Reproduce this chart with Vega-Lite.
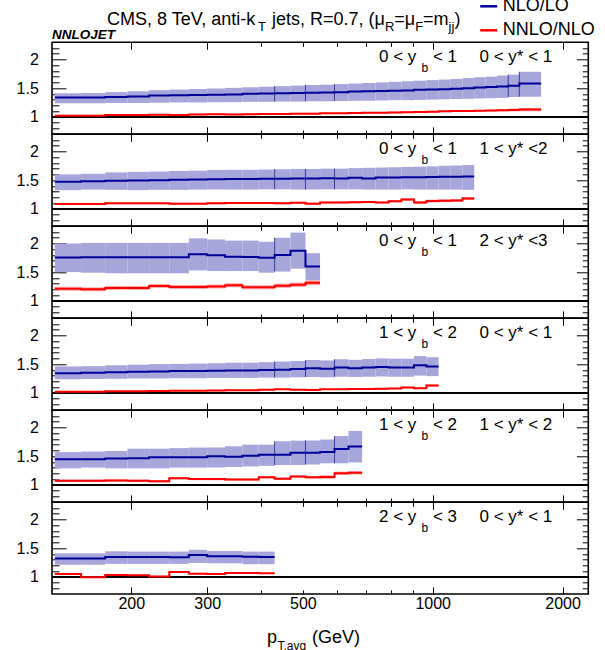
{
"$schema":"https://vega.github.io/schema/vega-lite/v6.json",
"autosize":{"type":"none"},
"bounds":"flush",
"padding":{"left":52,"top":42.3,"right":16.7,"bottom":0},
"params":[{"name":"width","value":536.3},{"name":"height","value":607.7}],
"background":"white",
"config":{"view":{"stroke":"black","strokeWidth":1.6},"axis":{"domain":false,"grid":false,"tickColor":"black","tickWidth":1,"labelFont":"Liberation Sans","labelFontSize":16,"labelColor":"black","zindex":1},"text":{"font":"Liberation Sans","color":"black"}},
"datasets":{
"labels":[
{"panel":1,"a":"0 < y","b":"b","c":"< 1","d":"0 < y* < 1"},
{"panel":2,"a":"0 < y","b":"b","c":"< 1","d":"1 < y* <2"},
{"panel":3,"a":"0 < y","b":"b","c":"< 1","d":"2 < y* <3"},
{"panel":4,"a":"1 < y","b":"b","c":"< 2","d":"0 < y* < 1"},
{"panel":5,"a":"1 < y","b":"b","c":"< 2","d":"1 < y* < 2"},
{"panel":6,"a":"2 < y","b":"b","c":"< 3","d":"0 < y* < 1"}
],
"bins":[
{"panel":1,"series":"NLO/LO","lo":133,"hi":153,"mid":1.335,"down":1.235,"up":1.41},
{"panel":1,"series":"NLO/LO","lo":153,"hi":174,"mid":1.335,"down":1.235,"up":1.415},
{"panel":1,"series":"NLO/LO","lo":174,"hi":196,"mid":1.345,"down":1.24,"up":1.43},
{"panel":1,"series":"NLO/LO","lo":196,"hi":220,"mid":1.355,"down":1.24,"up":1.445},
{"panel":1,"series":"NLO/LO","lo":220,"hi":245,"mid":1.37,"down":1.245,"up":1.465},
{"panel":1,"series":"NLO/LO","lo":245,"hi":272,"mid":1.375,"down":1.25,"up":1.475},
{"panel":1,"series":"NLO/LO","lo":272,"hi":300,"mid":1.38,"down":1.25,"up":1.485},
{"panel":1,"series":"NLO/LO","lo":300,"hi":330,"mid":1.385,"down":1.255,"up":1.495},
{"panel":1,"series":"NLO/LO","lo":330,"hi":362,"mid":1.39,"down":1.255,"up":1.505},
{"panel":1,"series":"NLO/LO","lo":362,"hi":395,"mid":1.4,"down":1.26,"up":1.515},
{"panel":1,"series":"NLO/LO","lo":395,"hi":430,"mid":1.405,"down":1.26,"up":1.525},
{"panel":1,"series":"NLO/LO","lo":430,"hi":468,"mid":1.41,"down":1.265,"up":1.535},
{"panel":1,"series":"NLO/LO","lo":468,"hi":507,"mid":1.415,"down":1.265,"up":1.545},
{"panel":1,"series":"NLO/LO","lo":507,"hi":548,"mid":1.42,"down":1.27,"up":1.555},
{"panel":1,"series":"NLO/LO","lo":548,"hi":592,"mid":1.425,"down":1.27,"up":1.56},
{"panel":1,"series":"NLO/LO","lo":592,"hi":638,"mid":1.43,"down":1.275,"up":1.57},
{"panel":1,"series":"NLO/LO","lo":638,"hi":686,"mid":1.44,"down":1.28,"up":1.58},
{"panel":1,"series":"NLO/LO","lo":686,"hi":737,"mid":1.445,"down":1.28,"up":1.59},
{"panel":1,"series":"NLO/LO","lo":737,"hi":790,"mid":1.45,"down":1.285,"up":1.6},
{"panel":1,"series":"NLO/LO","lo":790,"hi":846,"mid":1.455,"down":1.29,"up":1.61},
{"panel":1,"series":"NLO/LO","lo":846,"hi":905,"mid":1.46,"down":1.29,"up":1.62},
{"panel":1,"series":"NLO/LO","lo":905,"hi":967,"mid":1.47,"down":1.295,"up":1.63},
{"panel":1,"series":"NLO/LO","lo":967,"hi":1032,"mid":1.475,"down":1.3,"up":1.64},
{"panel":1,"series":"NLO/LO","lo":1032,"hi":1101,"mid":1.48,"down":1.305,"up":1.65},
{"panel":1,"series":"NLO/LO","lo":1101,"hi":1172,"mid":1.49,"down":1.31,"up":1.66},
{"panel":1,"series":"NLO/LO","lo":1172,"hi":1248,"mid":1.5,"down":1.315,"up":1.675},
{"panel":1,"series":"NLO/LO","lo":1248,"hi":1327,"mid":1.51,"down":1.32,"up":1.69},
{"panel":1,"series":"NLO/LO","lo":1327,"hi":1410,"mid":1.52,"down":1.325,"up":1.7},
{"panel":1,"series":"NLO/LO","lo":1410,"hi":1497,"mid":1.53,"down":1.33,"up":1.72},
{"panel":1,"series":"NLO/LO","lo":1497,"hi":1588,"mid":1.54,"down":1.345,"up":1.735},
{"panel":1,"series":"NLO/LO","lo":1588,"hi":1784,"mid":1.58,"down":1.35,"up":1.785},
{"panel":1,"series":"NNLO/NLO","lo":133,"hi":153,"mid":1.02,"down":1.005,"up":1.035},
{"panel":1,"series":"NNLO/NLO","lo":153,"hi":174,"mid":1.02,"down":1.005,"up":1.035},
{"panel":1,"series":"NNLO/NLO","lo":174,"hi":196,"mid":1.03,"down":1.015,"up":1.045},
{"panel":1,"series":"NNLO/NLO","lo":196,"hi":220,"mid":1.03,"down":1.015,"up":1.045},
{"panel":1,"series":"NNLO/NLO","lo":220,"hi":245,"mid":1.035,"down":1.02,"up":1.05},
{"panel":1,"series":"NNLO/NLO","lo":245,"hi":272,"mid":1.03,"down":1.015,"up":1.045},
{"panel":1,"series":"NNLO/NLO","lo":272,"hi":300,"mid":1.04,"down":1.025,"up":1.055},
{"panel":1,"series":"NNLO/NLO","lo":300,"hi":330,"mid":1.045,"down":1.03,"up":1.06},
{"panel":1,"series":"NNLO/NLO","lo":330,"hi":362,"mid":1.04,"down":1.025,"up":1.055},
{"panel":1,"series":"NNLO/NLO","lo":362,"hi":395,"mid":1.045,"down":1.03,"up":1.06},
{"panel":1,"series":"NNLO/NLO","lo":395,"hi":430,"mid":1.05,"down":1.035,"up":1.065},
{"panel":1,"series":"NNLO/NLO","lo":430,"hi":468,"mid":1.05,"down":1.035,"up":1.065},
{"panel":1,"series":"NNLO/NLO","lo":468,"hi":507,"mid":1.055,"down":1.04,"up":1.07},
{"panel":1,"series":"NNLO/NLO","lo":507,"hi":548,"mid":1.055,"down":1.04,"up":1.07},
{"panel":1,"series":"NNLO/NLO","lo":548,"hi":592,"mid":1.06,"down":1.045,"up":1.075},
{"panel":1,"series":"NNLO/NLO","lo":592,"hi":638,"mid":1.06,"down":1.045,"up":1.075},
{"panel":1,"series":"NNLO/NLO","lo":638,"hi":686,"mid":1.065,"down":1.05,"up":1.08},
{"panel":1,"series":"NNLO/NLO","lo":686,"hi":737,"mid":1.07,"down":1.055,"up":1.085},
{"panel":1,"series":"NNLO/NLO","lo":737,"hi":790,"mid":1.07,"down":1.055,"up":1.085},
{"panel":1,"series":"NNLO/NLO","lo":790,"hi":846,"mid":1.075,"down":1.06,"up":1.09},
{"panel":1,"series":"NNLO/NLO","lo":846,"hi":905,"mid":1.08,"down":1.065,"up":1.095},
{"panel":1,"series":"NNLO/NLO","lo":905,"hi":967,"mid":1.085,"down":1.07,"up":1.1},
{"panel":1,"series":"NNLO/NLO","lo":967,"hi":1032,"mid":1.09,"down":1.075,"up":1.105},
{"panel":1,"series":"NNLO/NLO","lo":1032,"hi":1101,"mid":1.095,"down":1.08,"up":1.11},
{"panel":1,"series":"NNLO/NLO","lo":1101,"hi":1172,"mid":1.1,"down":1.085,"up":1.115},
{"panel":1,"series":"NNLO/NLO","lo":1172,"hi":1248,"mid":1.1,"down":1.085,"up":1.115},
{"panel":1,"series":"NNLO/NLO","lo":1248,"hi":1327,"mid":1.105,"down":1.09,"up":1.12},
{"panel":1,"series":"NNLO/NLO","lo":1327,"hi":1410,"mid":1.11,"down":1.095,"up":1.125},
{"panel":1,"series":"NNLO/NLO","lo":1410,"hi":1497,"mid":1.115,"down":1.095,"up":1.135},
{"panel":1,"series":"NNLO/NLO","lo":1497,"hi":1588,"mid":1.12,"down":1.095,"up":1.145},
{"panel":1,"series":"NNLO/NLO","lo":1588,"hi":1784,"mid":1.125,"down":1.095,"up":1.155},
{"panel":2,"series":"NLO/LO","lo":133,"hi":153,"mid":1.47,"down":1.325,"up":1.6},
{"panel":2,"series":"NLO/LO","lo":153,"hi":174,"mid":1.48,"down":1.335,"up":1.61},
{"panel":2,"series":"NLO/LO","lo":174,"hi":196,"mid":1.49,"down":1.33,"up":1.635},
{"panel":2,"series":"NLO/LO","lo":196,"hi":220,"mid":1.495,"down":1.325,"up":1.645},
{"panel":2,"series":"NLO/LO","lo":220,"hi":245,"mid":1.5,"down":1.33,"up":1.65},
{"panel":2,"series":"NLO/LO","lo":245,"hi":272,"mid":1.505,"down":1.33,"up":1.66},
{"panel":2,"series":"NLO/LO","lo":272,"hi":300,"mid":1.51,"down":1.335,"up":1.665},
{"panel":2,"series":"NLO/LO","lo":300,"hi":330,"mid":1.515,"down":1.335,"up":1.675},
{"panel":2,"series":"NLO/LO","lo":330,"hi":362,"mid":1.52,"down":1.335,"up":1.68},
{"panel":2,"series":"NLO/LO","lo":362,"hi":395,"mid":1.52,"down":1.335,"up":1.68},
{"panel":2,"series":"NLO/LO","lo":395,"hi":430,"mid":1.525,"down":1.34,"up":1.685},
{"panel":2,"series":"NLO/LO","lo":430,"hi":468,"mid":1.525,"down":1.34,"up":1.69},
{"panel":2,"series":"NLO/LO","lo":468,"hi":507,"mid":1.53,"down":1.335,"up":1.695},
{"panel":2,"series":"NLO/LO","lo":507,"hi":548,"mid":1.53,"down":1.335,"up":1.695},
{"panel":2,"series":"NLO/LO","lo":548,"hi":592,"mid":1.535,"down":1.34,"up":1.7},
{"panel":2,"series":"NLO/LO","lo":592,"hi":638,"mid":1.53,"down":1.34,"up":1.7},
{"panel":2,"series":"NLO/LO","lo":638,"hi":686,"mid":1.54,"down":1.34,"up":1.71},
{"panel":2,"series":"NLO/LO","lo":686,"hi":737,"mid":1.53,"down":1.335,"up":1.715},
{"panel":2,"series":"NLO/LO","lo":737,"hi":790,"mid":1.545,"down":1.335,"up":1.72},
{"panel":2,"series":"NLO/LO","lo":790,"hi":846,"mid":1.545,"down":1.335,"up":1.725},
{"panel":2,"series":"NLO/LO","lo":846,"hi":905,"mid":1.55,"down":1.34,"up":1.73},
{"panel":2,"series":"NLO/LO","lo":905,"hi":967,"mid":1.55,"down":1.335,"up":1.735},
{"panel":2,"series":"NLO/LO","lo":967,"hi":1032,"mid":1.555,"down":1.335,"up":1.74},
{"panel":2,"series":"NLO/LO","lo":1032,"hi":1101,"mid":1.56,"down":1.335,"up":1.75},
{"panel":2,"series":"NLO/LO","lo":1101,"hi":1172,"mid":1.56,"down":1.335,"up":1.755},
{"panel":2,"series":"NLO/LO","lo":1172,"hi":1248,"mid":1.565,"down":1.33,"up":1.765},
{"panel":2,"series":"NNLO/NLO","lo":133,"hi":153,"mid":1.085,"down":1.067,"up":1.103},
{"panel":2,"series":"NNLO/NLO","lo":153,"hi":174,"mid":1.085,"down":1.067,"up":1.103},
{"panel":2,"series":"NNLO/NLO","lo":174,"hi":196,"mid":1.095,"down":1.077,"up":1.113},
{"panel":2,"series":"NNLO/NLO","lo":196,"hi":220,"mid":1.095,"down":1.077,"up":1.113},
{"panel":2,"series":"NNLO/NLO","lo":220,"hi":245,"mid":1.095,"down":1.077,"up":1.113},
{"panel":2,"series":"NNLO/NLO","lo":245,"hi":272,"mid":1.09,"down":1.072,"up":1.108},
{"panel":2,"series":"NNLO/NLO","lo":272,"hi":300,"mid":1.09,"down":1.072,"up":1.108},
{"panel":2,"series":"NNLO/NLO","lo":300,"hi":330,"mid":1.095,"down":1.077,"up":1.113},
{"panel":2,"series":"NNLO/NLO","lo":330,"hi":362,"mid":1.1,"down":1.082,"up":1.118},
{"panel":2,"series":"NNLO/NLO","lo":362,"hi":395,"mid":1.1,"down":1.082,"up":1.118},
{"panel":2,"series":"NNLO/NLO","lo":395,"hi":430,"mid":1.1,"down":1.082,"up":1.118},
{"panel":2,"series":"NNLO/NLO","lo":430,"hi":468,"mid":1.095,"down":1.077,"up":1.113},
{"panel":2,"series":"NNLO/NLO","lo":468,"hi":507,"mid":1.105,"down":1.087,"up":1.123},
{"panel":2,"series":"NNLO/NLO","lo":507,"hi":548,"mid":1.09,"down":1.072,"up":1.108},
{"panel":2,"series":"NNLO/NLO","lo":548,"hi":592,"mid":1.11,"down":1.092,"up":1.128},
{"panel":2,"series":"NNLO/NLO","lo":592,"hi":638,"mid":1.11,"down":1.092,"up":1.128},
{"panel":2,"series":"NNLO/NLO","lo":638,"hi":686,"mid":1.115,"down":1.097,"up":1.133},
{"panel":2,"series":"NNLO/NLO","lo":686,"hi":737,"mid":1.12,"down":1.102,"up":1.138},
{"panel":2,"series":"NNLO/NLO","lo":737,"hi":790,"mid":1.11,"down":1.092,"up":1.128},
{"panel":2,"series":"NNLO/NLO","lo":790,"hi":846,"mid":1.13,"down":1.11,"up":1.15},
{"panel":2,"series":"NNLO/NLO","lo":846,"hi":905,"mid":1.16,"down":1.135,"up":1.185},
{"panel":2,"series":"NNLO/NLO","lo":905,"hi":967,"mid":1.11,"down":1.085,"up":1.135},
{"panel":2,"series":"NNLO/NLO","lo":967,"hi":1032,"mid":1.135,"down":1.11,"up":1.16},
{"panel":2,"series":"NNLO/NLO","lo":1032,"hi":1101,"mid":1.14,"down":1.115,"up":1.165},
{"panel":2,"series":"NNLO/NLO","lo":1101,"hi":1172,"mid":1.145,"down":1.12,"up":1.17},
{"panel":2,"series":"NNLO/NLO","lo":1172,"hi":1248,"mid":1.18,"down":1.155,"up":1.205},
{"panel":3,"series":"NLO/LO","lo":133,"hi":153,"mid":1.755,"down":1.5,"up":2.0},
{"panel":3,"series":"NLO/LO","lo":153,"hi":174,"mid":1.76,"down":1.49,"up":2.01},
{"panel":3,"series":"NLO/LO","lo":174,"hi":196,"mid":1.76,"down":1.48,"up":2.01},
{"panel":3,"series":"NLO/LO","lo":196,"hi":220,"mid":1.76,"down":1.48,"up":2.01},
{"panel":3,"series":"NLO/LO","lo":220,"hi":245,"mid":1.76,"down":1.48,"up":2.01},
{"panel":3,"series":"NLO/LO","lo":245,"hi":272,"mid":1.76,"down":1.48,"up":2.01},
{"panel":3,"series":"NLO/LO","lo":272,"hi":300,"mid":1.81,"down":1.53,"up":2.09},
{"panel":3,"series":"NLO/LO","lo":300,"hi":330,"mid":1.795,"down":1.52,"up":2.07},
{"panel":3,"series":"NLO/LO","lo":330,"hi":362,"mid":1.77,"down":1.52,"up":2.05},
{"panel":3,"series":"NLO/LO","lo":362,"hi":395,"mid":1.765,"down":1.52,"up":2.05},
{"panel":3,"series":"NLO/LO","lo":395,"hi":430,"mid":1.75,"down":1.49,"up":2.03},
{"panel":3,"series":"NLO/LO","lo":430,"hi":468,"mid":1.8,"down":1.51,"up":2.1},
{"panel":3,"series":"NLO/LO","lo":468,"hi":507,"mid":1.875,"down":1.56,"up":2.19},
{"panel":3,"series":"NLO/LO","lo":507,"hi":548,"mid":1.6,"down":1.36,"up":1.83},
{"panel":3,"series":"NNLO/NLO","lo":133,"hi":153,"mid":1.21,"down":1.175,"up":1.245},
{"panel":3,"series":"NNLO/NLO","lo":153,"hi":174,"mid":1.2,"down":1.165,"up":1.235},
{"panel":3,"series":"NNLO/NLO","lo":174,"hi":196,"mid":1.225,"down":1.19,"up":1.26},
{"panel":3,"series":"NNLO/NLO","lo":196,"hi":220,"mid":1.225,"down":1.19,"up":1.26},
{"panel":3,"series":"NNLO/NLO","lo":220,"hi":245,"mid":1.26,"down":1.225,"up":1.295},
{"panel":3,"series":"NNLO/NLO","lo":245,"hi":272,"mid":1.24,"down":1.205,"up":1.275},
{"panel":3,"series":"NNLO/NLO","lo":272,"hi":300,"mid":1.24,"down":1.205,"up":1.275},
{"panel":3,"series":"NNLO/NLO","lo":300,"hi":330,"mid":1.25,"down":1.215,"up":1.285},
{"panel":3,"series":"NNLO/NLO","lo":330,"hi":362,"mid":1.27,"down":1.235,"up":1.305},
{"panel":3,"series":"NNLO/NLO","lo":362,"hi":395,"mid":1.235,"down":1.2,"up":1.27},
{"panel":3,"series":"NNLO/NLO","lo":395,"hi":430,"mid":1.235,"down":1.2,"up":1.27},
{"panel":3,"series":"NNLO/NLO","lo":430,"hi":468,"mid":1.262,"down":1.225,"up":1.3},
{"panel":3,"series":"NNLO/NLO","lo":468,"hi":507,"mid":1.28,"down":1.24,"up":1.32},
{"panel":3,"series":"NNLO/NLO","lo":507,"hi":548,"mid":1.315,"down":1.27,"up":1.36},
{"panel":4,"series":"NLO/LO","lo":133,"hi":153,"mid":1.343,"down":1.235,"up":1.46},
{"panel":4,"series":"NLO/LO","lo":153,"hi":174,"mid":1.35,"down":1.24,"up":1.465},
{"panel":4,"series":"NLO/LO","lo":174,"hi":196,"mid":1.36,"down":1.245,"up":1.48},
{"panel":4,"series":"NLO/LO","lo":196,"hi":220,"mid":1.367,"down":1.25,"up":1.49},
{"panel":4,"series":"NLO/LO","lo":220,"hi":245,"mid":1.373,"down":1.25,"up":1.5},
{"panel":4,"series":"NLO/LO","lo":245,"hi":272,"mid":1.38,"down":1.255,"up":1.505},
{"panel":4,"series":"NLO/LO","lo":272,"hi":300,"mid":1.38,"down":1.255,"up":1.51},
{"panel":4,"series":"NLO/LO","lo":300,"hi":330,"mid":1.385,"down":1.26,"up":1.515},
{"panel":4,"series":"NLO/LO","lo":330,"hi":362,"mid":1.39,"down":1.26,"up":1.525},
{"panel":4,"series":"NLO/LO","lo":362,"hi":395,"mid":1.39,"down":1.26,"up":1.525},
{"panel":4,"series":"NLO/LO","lo":395,"hi":430,"mid":1.398,"down":1.265,"up":1.535},
{"panel":4,"series":"NLO/LO","lo":430,"hi":468,"mid":1.404,"down":1.265,"up":1.545},
{"panel":4,"series":"NLO/LO","lo":468,"hi":507,"mid":1.416,"down":1.27,"up":1.555},
{"panel":4,"series":"NLO/LO","lo":507,"hi":548,"mid":1.428,"down":1.275,"up":1.57},
{"panel":4,"series":"NLO/LO","lo":548,"hi":592,"mid":1.42,"down":1.27,"up":1.565},
{"panel":4,"series":"NLO/LO","lo":592,"hi":638,"mid":1.44,"down":1.28,"up":1.585},
{"panel":4,"series":"NLO/LO","lo":638,"hi":686,"mid":1.428,"down":1.275,"up":1.575},
{"panel":4,"series":"NLO/LO","lo":686,"hi":737,"mid":1.44,"down":1.28,"up":1.59},
{"panel":4,"series":"NLO/LO","lo":737,"hi":790,"mid":1.45,"down":1.285,"up":1.6},
{"panel":4,"series":"NLO/LO","lo":790,"hi":846,"mid":1.44,"down":1.28,"up":1.595},
{"panel":4,"series":"NLO/LO","lo":846,"hi":905,"mid":1.44,"down":1.28,"up":1.595},
{"panel":4,"series":"NLO/LO","lo":905,"hi":967,"mid":1.48,"down":1.3,"up":1.64},
{"panel":4,"series":"NLO/LO","lo":967,"hi":1032,"mid":1.458,"down":1.29,"up":1.62},
{"panel":4,"series":"NNLO/NLO","lo":133,"hi":153,"mid":1.02,"down":1.008,"up":1.032},
{"panel":4,"series":"NNLO/NLO","lo":153,"hi":174,"mid":1.02,"down":1.008,"up":1.032},
{"panel":4,"series":"NNLO/NLO","lo":174,"hi":196,"mid":1.025,"down":1.013,"up":1.037},
{"panel":4,"series":"NNLO/NLO","lo":196,"hi":220,"mid":1.025,"down":1.013,"up":1.037},
{"panel":4,"series":"NNLO/NLO","lo":220,"hi":245,"mid":1.03,"down":1.018,"up":1.042},
{"panel":4,"series":"NNLO/NLO","lo":245,"hi":272,"mid":1.035,"down":1.023,"up":1.047},
{"panel":4,"series":"NNLO/NLO","lo":272,"hi":300,"mid":1.035,"down":1.023,"up":1.047},
{"panel":4,"series":"NNLO/NLO","lo":300,"hi":330,"mid":1.04,"down":1.028,"up":1.052},
{"panel":4,"series":"NNLO/NLO","lo":330,"hi":362,"mid":1.045,"down":1.033,"up":1.057},
{"panel":4,"series":"NNLO/NLO","lo":362,"hi":395,"mid":1.045,"down":1.033,"up":1.057},
{"panel":4,"series":"NNLO/NLO","lo":395,"hi":430,"mid":1.055,"down":1.043,"up":1.067},
{"panel":4,"series":"NNLO/NLO","lo":430,"hi":468,"mid":1.06,"down":1.048,"up":1.072},
{"panel":4,"series":"NNLO/NLO","lo":468,"hi":507,"mid":1.055,"down":1.043,"up":1.067},
{"panel":4,"series":"NNLO/NLO","lo":507,"hi":548,"mid":1.05,"down":1.038,"up":1.062},
{"panel":4,"series":"NNLO/NLO","lo":548,"hi":592,"mid":1.06,"down":1.048,"up":1.072},
{"panel":4,"series":"NNLO/NLO","lo":592,"hi":638,"mid":1.06,"down":1.048,"up":1.072},
{"panel":4,"series":"NNLO/NLO","lo":638,"hi":686,"mid":1.065,"down":1.053,"up":1.077},
{"panel":4,"series":"NNLO/NLO","lo":686,"hi":737,"mid":1.065,"down":1.053,"up":1.077},
{"panel":4,"series":"NNLO/NLO","lo":737,"hi":790,"mid":1.07,"down":1.058,"up":1.082},
{"panel":4,"series":"NNLO/NLO","lo":790,"hi":846,"mid":1.075,"down":1.063,"up":1.087},
{"panel":4,"series":"NNLO/NLO","lo":846,"hi":905,"mid":1.09,"down":1.075,"up":1.105},
{"panel":4,"series":"NNLO/NLO","lo":905,"hi":967,"mid":1.08,"down":1.065,"up":1.095},
{"panel":4,"series":"NNLO/NLO","lo":967,"hi":1032,"mid":1.125,"down":1.105,"up":1.145},
{"panel":5,"series":"NLO/LO","lo":133,"hi":153,"mid":1.446,"down":1.286,"up":1.57},
{"panel":5,"series":"NLO/LO","lo":153,"hi":174,"mid":1.446,"down":1.3,"up":1.58},
{"panel":5,"series":"NLO/LO","lo":174,"hi":196,"mid":1.458,"down":1.286,"up":1.59},
{"panel":5,"series":"NLO/LO","lo":196,"hi":220,"mid":1.464,"down":1.286,"up":1.63},
{"panel":5,"series":"NLO/LO","lo":220,"hi":245,"mid":1.48,"down":1.286,"up":1.63},
{"panel":5,"series":"NLO/LO","lo":245,"hi":272,"mid":1.48,"down":1.3,"up":1.64},
{"panel":5,"series":"NLO/LO","lo":272,"hi":300,"mid":1.48,"down":1.3,"up":1.65},
{"panel":5,"series":"NLO/LO","lo":300,"hi":330,"mid":1.5,"down":1.3,"up":1.65},
{"panel":5,"series":"NLO/LO","lo":330,"hi":362,"mid":1.488,"down":1.31,"up":1.673},
{"panel":5,"series":"NLO/LO","lo":362,"hi":395,"mid":1.506,"down":1.32,"up":1.7},
{"panel":5,"series":"NLO/LO","lo":395,"hi":430,"mid":1.524,"down":1.33,"up":1.7},
{"panel":5,"series":"NLO/LO","lo":430,"hi":468,"mid":1.524,"down":1.345,"up":1.76},
{"panel":5,"series":"NLO/LO","lo":468,"hi":507,"mid":1.56,"down":1.345,"up":1.77},
{"panel":5,"series":"NLO/LO","lo":507,"hi":548,"mid":1.56,"down":1.355,"up":1.775},
{"panel":5,"series":"NLO/LO","lo":548,"hi":592,"mid":1.571,"down":1.375,"up":1.79},
{"panel":5,"series":"NLO/LO","lo":592,"hi":638,"mid":1.625,"down":1.375,"up":1.85},
{"panel":5,"series":"NLO/LO","lo":638,"hi":686,"mid":1.667,"down":1.39,"up":1.94},
{"panel":5,"series":"NNLO/NLO","lo":133,"hi":153,"mid":1.07,"down":1.05,"up":1.09},
{"panel":5,"series":"NNLO/NLO","lo":153,"hi":174,"mid":1.07,"down":1.05,"up":1.09},
{"panel":5,"series":"NNLO/NLO","lo":174,"hi":196,"mid":1.075,"down":1.055,"up":1.095},
{"panel":5,"series":"NNLO/NLO","lo":196,"hi":220,"mid":1.07,"down":1.05,"up":1.09},
{"panel":5,"series":"NNLO/NLO","lo":220,"hi":245,"mid":1.06,"down":1.04,"up":1.08},
{"panel":5,"series":"NNLO/NLO","lo":245,"hi":272,"mid":1.115,"down":1.095,"up":1.135},
{"panel":5,"series":"NNLO/NLO","lo":272,"hi":300,"mid":1.1,"down":1.08,"up":1.12},
{"panel":5,"series":"NNLO/NLO","lo":300,"hi":330,"mid":1.1,"down":1.08,"up":1.12},
{"panel":5,"series":"NNLO/NLO","lo":330,"hi":362,"mid":1.09,"down":1.07,"up":1.11},
{"panel":5,"series":"NNLO/NLO","lo":362,"hi":395,"mid":1.09,"down":1.07,"up":1.11},
{"panel":5,"series":"NNLO/NLO","lo":395,"hi":430,"mid":1.13,"down":1.11,"up":1.15},
{"panel":5,"series":"NNLO/NLO","lo":430,"hi":468,"mid":1.107,"down":1.087,"up":1.127},
{"panel":5,"series":"NNLO/NLO","lo":468,"hi":507,"mid":1.145,"down":1.125,"up":1.165},
{"panel":5,"series":"NNLO/NLO","lo":507,"hi":548,"mid":1.13,"down":1.11,"up":1.15},
{"panel":5,"series":"NNLO/NLO","lo":548,"hi":592,"mid":1.135,"down":1.105,"up":1.165},
{"panel":5,"series":"NNLO/NLO","lo":592,"hi":638,"mid":1.2,"down":1.17,"up":1.23},
{"panel":5,"series":"NNLO/NLO","lo":638,"hi":686,"mid":1.21,"down":1.18,"up":1.24},
{"panel":6,"series":"NLO/LO","lo":133,"hi":153,"mid":1.32,"down":1.21,"up":1.41},
{"panel":6,"series":"NLO/LO","lo":153,"hi":174,"mid":1.32,"down":1.21,"up":1.41},
{"panel":6,"series":"NLO/LO","lo":174,"hi":196,"mid":1.345,"down":1.225,"up":1.445},
{"panel":6,"series":"NLO/LO","lo":196,"hi":220,"mid":1.345,"down":1.225,"up":1.44},
{"panel":6,"series":"NLO/LO","lo":220,"hi":245,"mid":1.345,"down":1.225,"up":1.44},
{"panel":6,"series":"NLO/LO","lo":245,"hi":272,"mid":1.34,"down":1.225,"up":1.44},
{"panel":6,"series":"NLO/LO","lo":272,"hi":300,"mid":1.38,"down":1.24,"up":1.47},
{"panel":6,"series":"NLO/LO","lo":300,"hi":330,"mid":1.36,"down":1.235,"up":1.45},
{"panel":6,"series":"NLO/LO","lo":330,"hi":362,"mid":1.36,"down":1.235,"up":1.45},
{"panel":6,"series":"NLO/LO","lo":362,"hi":395,"mid":1.35,"down":1.22,"up":1.44},
{"panel":6,"series":"NLO/LO","lo":395,"hi":430,"mid":1.345,"down":1.22,"up":1.44},
{"panel":6,"series":"NNLO/NLO","lo":133,"hi":153,"mid":1.05,"down":1.038,"up":1.062},
{"panel":6,"series":"NNLO/NLO","lo":153,"hi":174,"mid":0.99,"down":0.978,"up":1.002},
{"panel":6,"series":"NNLO/NLO","lo":174,"hi":196,"mid":1.03,"down":1.018,"up":1.042},
{"panel":6,"series":"NNLO/NLO","lo":196,"hi":220,"mid":1.025,"down":1.013,"up":1.037},
{"panel":6,"series":"NNLO/NLO","lo":220,"hi":245,"mid":1.005,"down":0.993,"up":1.017},
{"panel":6,"series":"NNLO/NLO","lo":245,"hi":272,"mid":1.085,"down":1.073,"up":1.097},
{"panel":6,"series":"NNLO/NLO","lo":272,"hi":300,"mid":1.055,"down":1.043,"up":1.067},
{"panel":6,"series":"NNLO/NLO","lo":300,"hi":330,"mid":1.05,"down":1.038,"up":1.062},
{"panel":6,"series":"NNLO/NLO","lo":330,"hi":362,"mid":1.065,"down":1.053,"up":1.077},
{"panel":6,"series":"NNLO/NLO","lo":362,"hi":395,"mid":1.065,"down":1.053,"up":1.077},
{"panel":6,"series":"NNLO/NLO","lo":395,"hi":430,"mid":1.06,"down":1.048,"up":1.072}
]},
"spacing":0,
"vconcat":[
{"width":536.3,"height":91.67,"data":{"name":"bins"},"resolve":{"axis":{"x":"independent","y":"independent"}},
"layer":[
{"transform":[{"filter":"datum.panel == 1 && datum.series == 'NLO/LO'"}],"mark":{"type":"rect","color":"#a6a6db"},"encoding":{"x":{"field":"lo","type":"quantitative","scale":{"type":"log","domain":[131,2295],"nice":false},"axis":{"orient":"bottom","values":[200,300,400,500,600,700,800,900,1000,2000],"tickSize":-4,"labels":false,"title":null}},"x2":{"field":"hi"},"y":{"field":"down","type":"quantitative","scale":{"domain":[0.7,2.3],"nice":false,"zero":false},"axis":{"orient":"left","values":[1,1.5,2],"tickSize":-14,"format":"~g","labelPadding":27.7,"labelFlush":false,"labelOverlap":false,"title":null}},"y2":{"field":"up"}}},
{"transform":[{"filter":"datum.panel == 1 && datum.series == 'NNLO/NLO'"}],"mark":{"type":"rect","color":"#ffa6a6"},"encoding":{"x":{"field":"lo","type":"quantitative","axis":{"orient":"top","values":[200,300,400,500,600,700,800,900,1000,2000],"tickSize":-4,"labels":false,"title":null}},"x2":{"field":"hi"},"y":{"field":"down","type":"quantitative","axis":{"orient":"right","values":[1,1.5,2],"tickSize":-12,"labels":false,"title":null}},"y2":{"field":"up"}}},
{"transform":[{"filter":"datum.panel == 1 && datum.series == 'NLO/LO' && indexof([430,507,592,1497,1588], datum.lo) >= 0"}],"mark":{"type":"rule","color":"#000099","strokeWidth":1,"opacity":0.7},"encoding":{"x":{"field":"lo","type":"quantitative","axis":null},"y":{"field":"down","type":"quantitative","axis":null},"y2":{"field":"up"}}},
{"mark":{"type":"rule","color":"black","strokeWidth":1.2},"encoding":{"y":{"datum":1,"type":"quantitative","axis":null}}},
{"transform":[{"filter":"datum.panel == 1 && datum.series == 'NLO/LO'"},{"fold":["lo","hi"],"as":["edge","xv"]}],"mark":{"type":"line","strokeWidth":2},"encoding":{"x":{"field":"xv","type":"quantitative","axis":{"orient":"bottom","values":[200,300,1000,2000],"tickSize":-7,"labels":false,"title":null}},"y":{"field":"mid","type":"quantitative","axis":{"orient":"left","values":[0.8,0.9,1.1,1.2,1.3,1.4,1.6,1.7,1.8,1.9,2.1,2.2],"tickSize":-7,"labels":false,"title":null}},"color":{"field":"series","type":"nominal","scale":{"domain":["NLO/LO","NNLO/NLO"],"range":["#000099","#ff0000"]},"legend":{"title":null,"orient":"none","legendX":426.7,"legendY":-46,"symbolType":"stroke","symbolSize":289,"symbolStrokeWidth":2.5,"labelFontSize":18,"labelFont":"Liberation Sans","labelColor":"black","labelOffset":4,"rowPadding":5,"padding":0}},"order":[{"field":"xv","type":"quantitative"},{"field":"edge","type":"nominal"}]}},
{"transform":[{"filter":"datum.panel == 1 && datum.series == 'NNLO/NLO'"},{"fold":["lo","hi"],"as":["edge","xv"]}],"mark":{"type":"line","strokeWidth":2},"encoding":{"x":{"field":"xv","type":"quantitative","axis":{"orient":"top","values":[200,300,1000,2000],"tickSize":-7,"labels":false,"title":null}},"y":{"field":"mid","type":"quantitative","axis":{"orient":"right","values":[0.8,0.9,1.1,1.2,1.3,1.4,1.6,1.7,1.8,1.9,2.1,2.2],"tickSize":-6,"labels":false,"title":null}},"color":{"field":"series","type":"nominal"},"order":[{"field":"xv","type":"quantitative"},{"field":"edge","type":"nominal"}]}},
{"data":{"name":"labels"},"transform":[{"filter":"datum.panel == 1"}],"mark":{"type":"text","align":"left","baseline":"alphabetic","fontSize":17},"encoding":{"x":{"datum":750.6,"type":"quantitative","axis":null},"y":{"datum":1.95,"type":"quantitative","axis":null},"text":{"field":"a"}}},
{"data":{"name":"labels"},"transform":[{"filter":"datum.panel == 1"}],"mark":{"type":"text","align":"left","baseline":"alphabetic","fontSize":12,"dx":42.5,"dy":10},"encoding":{"x":{"datum":750.6,"type":"quantitative","axis":null},"y":{"datum":1.95,"type":"quantitative","axis":null},"text":{"field":"b"}}},
{"data":{"name":"labels"},"transform":[{"filter":"datum.panel == 1"}],"mark":{"type":"text","align":"left","baseline":"alphabetic","fontSize":17,"dx":54},"encoding":{"x":{"datum":750.6,"type":"quantitative","axis":null},"y":{"datum":1.95,"type":"quantitative","axis":null},"text":{"field":"c"}}},
{"data":{"name":"labels"},"transform":[{"filter":"datum.panel == 1"}],"mark":{"type":"text","align":"left","baseline":"alphabetic","fontSize":17,"dx":100.5},"encoding":{"x":{"datum":750.6,"type":"quantitative","axis":null},"y":{"datum":1.95,"type":"quantitative","axis":null},"text":{"field":"d"}}},
{"data":{"values":[{}]},"mark":{"type":"text","align":"left","baseline":"alphabetic","fontSize":13.5,"fontWeight":"bold","fontStyle":"italic"},"encoding":{"x":{"datum":131,"type":"quantitative","axis":null},"y":{"datum":2.349,"type":"quantitative","axis":null},"text":{"value":"NNLOJET"}}},
{"data":{"values":[{}]},"mark":{"type":"text","align":"left","baseline":"alphabetic","fontSize":18},"encoding":{"x":{"datum":175.8,"type":"quantitative","axis":null},"y":{"datum":2.602,"type":"quantitative","axis":null},"text":{"value":"CMS, 8 TeV, anti-k"}}},
{"data":{"values":[{}]},"mark":{"type":"text","align":"left","baseline":"alphabetic","fontSize":13,"dx":151,"dy":6},"encoding":{"x":{"datum":175.8,"type":"quantitative","axis":null},"y":{"datum":2.602,"type":"quantitative","axis":null},"text":{"value":"T"}}},
{"data":{"values":[{}]},"mark":{"type":"text","align":"left","baseline":"alphabetic","fontSize":18,"dx":164.9},"encoding":{"x":{"datum":175.8,"type":"quantitative","axis":null},"y":{"datum":2.602,"type":"quantitative","axis":null},"text":{"value":"jets, R=0.7, (μ"}}},
{"data":{"values":[{}]},"mark":{"type":"text","align":"left","baseline":"alphabetic","fontSize":13,"dx":277.8,"dy":6},"encoding":{"x":{"datum":175.8,"type":"quantitative","axis":null},"y":{"datum":2.602,"type":"quantitative","axis":null},"text":{"value":"R"}}},
{"data":{"values":[{}]},"mark":{"type":"text","align":"left","baseline":"alphabetic","fontSize":18,"dx":287.2},"encoding":{"x":{"datum":175.8,"type":"quantitative","axis":null},"y":{"datum":2.602,"type":"quantitative","axis":null},"text":{"value":"=μ"}}},
{"data":{"values":[{}]},"mark":{"type":"text","align":"left","baseline":"alphabetic","fontSize":13,"dx":308.1,"dy":6},"encoding":{"x":{"datum":175.8,"type":"quantitative","axis":null},"y":{"datum":2.602,"type":"quantitative","axis":null},"text":{"value":"F"}}},
{"data":{"values":[{}]},"mark":{"type":"text","align":"left","baseline":"alphabetic","fontSize":18,"dx":316},"encoding":{"x":{"datum":175.8,"type":"quantitative","axis":null},"y":{"datum":2.602,"type":"quantitative","axis":null},"text":{"value":"=m"}}},
{"data":{"values":[{}]},"mark":{"type":"text","align":"left","baseline":"alphabetic","fontSize":13,"dx":341.5,"dy":6},"encoding":{"x":{"datum":175.8,"type":"quantitative","axis":null},"y":{"datum":2.602,"type":"quantitative","axis":null},"text":{"value":"jj"}}},
{"data":{"values":[{}]},"mark":{"type":"text","align":"left","baseline":"alphabetic","fontSize":18,"dx":347.3},"encoding":{"x":{"datum":175.8,"type":"quantitative","axis":null},"y":{"datum":2.602,"type":"quantitative","axis":null},"text":{"value":")"}}}
]},
{"width":536.3,"height":91.67,"data":{"name":"bins"},"resolve":{"axis":{"x":"independent","y":"independent"}},
"layer":[
{"transform":[{"filter":"datum.panel == 2 && datum.series == 'NLO/LO'"}],"mark":{"type":"rect","color":"#a6a6db"},"encoding":{"x":{"field":"lo","type":"quantitative","scale":{"type":"log","domain":[131,2295],"nice":false},"axis":{"orient":"bottom","values":[200,300,400,500,600,700,800,900,1000,2000],"tickSize":-4,"labels":false,"title":null}},"x2":{"field":"hi"},"y":{"field":"down","type":"quantitative","scale":{"domain":[0.7,2.3],"nice":false,"zero":false},"axis":{"orient":"left","values":[1,1.5,2],"tickSize":-14,"format":"~g","labelPadding":27.7,"labelFlush":false,"labelOverlap":false,"title":null}},"y2":{"field":"up"}}},
{"transform":[{"filter":"datum.panel == 2 && datum.series == 'NNLO/NLO'"}],"mark":{"type":"rect","color":"#ffa6a6"},"encoding":{"x":{"field":"lo","type":"quantitative","axis":{"orient":"top","values":[200,300,400,500,600,700,800,900,1000,2000],"tickSize":-4,"labels":false,"title":null}},"x2":{"field":"hi"},"y":{"field":"down","type":"quantitative","axis":{"orient":"right","values":[1,1.5,2],"tickSize":-12,"labels":false,"title":null}},"y2":{"field":"up"}}},
{"transform":[{"filter":"datum.panel == 2 && datum.series == 'NLO/LO' && indexof([430,507,592], datum.lo) >= 0"}],"mark":{"type":"rule","color":"#000099","strokeWidth":1,"opacity":0.7},"encoding":{"x":{"field":"lo","type":"quantitative","axis":null},"y":{"field":"down","type":"quantitative","axis":null},"y2":{"field":"up"}}},
{"mark":{"type":"rule","color":"black","strokeWidth":1.2},"encoding":{"y":{"datum":1,"type":"quantitative","axis":null}}},
{"transform":[{"filter":"datum.panel == 2 && datum.series == 'NLO/LO'"},{"fold":["lo","hi"],"as":["edge","xv"]}],"mark":{"type":"line","strokeWidth":2},"encoding":{"x":{"field":"xv","type":"quantitative","axis":{"orient":"bottom","values":[200,300,1000,2000],"tickSize":-7,"labels":false,"title":null}},"y":{"field":"mid","type":"quantitative","axis":{"orient":"left","values":[0.8,0.9,1.1,1.2,1.3,1.4,1.6,1.7,1.8,1.9,2.1,2.2],"tickSize":-7,"labels":false,"title":null}},"color":{"field":"series","type":"nominal"},"order":[{"field":"xv","type":"quantitative"},{"field":"edge","type":"nominal"}]}},
{"transform":[{"filter":"datum.panel == 2 && datum.series == 'NNLO/NLO'"},{"fold":["lo","hi"],"as":["edge","xv"]}],"mark":{"type":"line","strokeWidth":2},"encoding":{"x":{"field":"xv","type":"quantitative","axis":{"orient":"top","values":[200,300,1000,2000],"tickSize":-7,"labels":false,"title":null}},"y":{"field":"mid","type":"quantitative","axis":{"orient":"right","values":[0.8,0.9,1.1,1.2,1.3,1.4,1.6,1.7,1.8,1.9,2.1,2.2],"tickSize":-6,"labels":false,"title":null}},"color":{"field":"series","type":"nominal"},"order":[{"field":"xv","type":"quantitative"},{"field":"edge","type":"nominal"}]}},
{"data":{"name":"labels"},"transform":[{"filter":"datum.panel == 2"}],"mark":{"type":"text","align":"left","baseline":"alphabetic","fontSize":17},"encoding":{"x":{"datum":750.6,"type":"quantitative","axis":null},"y":{"datum":1.95,"type":"quantitative","axis":null},"text":{"field":"a"}}},
{"data":{"name":"labels"},"transform":[{"filter":"datum.panel == 2"}],"mark":{"type":"text","align":"left","baseline":"alphabetic","fontSize":12,"dx":42.5,"dy":10},"encoding":{"x":{"datum":750.6,"type":"quantitative","axis":null},"y":{"datum":1.95,"type":"quantitative","axis":null},"text":{"field":"b"}}},
{"data":{"name":"labels"},"transform":[{"filter":"datum.panel == 2"}],"mark":{"type":"text","align":"left","baseline":"alphabetic","fontSize":17,"dx":54},"encoding":{"x":{"datum":750.6,"type":"quantitative","axis":null},"y":{"datum":1.95,"type":"quantitative","axis":null},"text":{"field":"c"}}},
{"data":{"name":"labels"},"transform":[{"filter":"datum.panel == 2"}],"mark":{"type":"text","align":"left","baseline":"alphabetic","fontSize":17,"dx":100.5},"encoding":{"x":{"datum":750.6,"type":"quantitative","axis":null},"y":{"datum":1.95,"type":"quantitative","axis":null},"text":{"field":"d"}}}
]},
{"width":536.3,"height":91.67,"data":{"name":"bins"},"resolve":{"axis":{"x":"independent","y":"independent"}},
"layer":[
{"transform":[{"filter":"datum.panel == 3 && datum.series == 'NLO/LO'"}],"mark":{"type":"rect","color":"#a6a6db"},"encoding":{"x":{"field":"lo","type":"quantitative","scale":{"type":"log","domain":[131,2295],"nice":false},"axis":{"orient":"bottom","values":[200,300,400,500,600,700,800,900,1000,2000],"tickSize":-4,"labels":false,"title":null}},"x2":{"field":"hi"},"y":{"field":"down","type":"quantitative","scale":{"domain":[0.7,2.3],"nice":false,"zero":false},"axis":{"orient":"left","values":[1,1.5,2],"tickSize":-14,"format":"~g","labelPadding":27.7,"labelFlush":false,"labelOverlap":false,"title":null}},"y2":{"field":"up"}}},
{"transform":[{"filter":"datum.panel == 3 && datum.series == 'NNLO/NLO'"}],"mark":{"type":"rect","color":"#ffa6a6"},"encoding":{"x":{"field":"lo","type":"quantitative","axis":{"orient":"top","values":[200,300,400,500,600,700,800,900,1000,2000],"tickSize":-4,"labels":false,"title":null}},"x2":{"field":"hi"},"y":{"field":"down","type":"quantitative","axis":{"orient":"right","values":[1,1.5,2],"tickSize":-12,"labels":false,"title":null}},"y2":{"field":"up"}}},
{"transform":[{"filter":"datum.panel == 3 && datum.series == 'NLO/LO' && indexof([430], datum.lo) >= 0"}],"mark":{"type":"rule","color":"#000099","strokeWidth":1,"opacity":0.7},"encoding":{"x":{"field":"lo","type":"quantitative","axis":null},"y":{"field":"down","type":"quantitative","axis":null},"y2":{"field":"up"}}},
{"mark":{"type":"rule","color":"black","strokeWidth":1.2},"encoding":{"y":{"datum":1,"type":"quantitative","axis":null}}},
{"transform":[{"filter":"datum.panel == 3 && datum.series == 'NLO/LO'"},{"fold":["lo","hi"],"as":["edge","xv"]}],"mark":{"type":"line","strokeWidth":2},"encoding":{"x":{"field":"xv","type":"quantitative","axis":{"orient":"bottom","values":[200,300,1000,2000],"tickSize":-7,"labels":false,"title":null}},"y":{"field":"mid","type":"quantitative","axis":{"orient":"left","values":[0.8,0.9,1.1,1.2,1.3,1.4,1.6,1.7,1.8,1.9,2.1,2.2],"tickSize":-7,"labels":false,"title":null}},"color":{"field":"series","type":"nominal"},"order":[{"field":"xv","type":"quantitative"},{"field":"edge","type":"nominal"}]}},
{"transform":[{"filter":"datum.panel == 3 && datum.series == 'NNLO/NLO'"},{"fold":["lo","hi"],"as":["edge","xv"]}],"mark":{"type":"line","strokeWidth":2},"encoding":{"x":{"field":"xv","type":"quantitative","axis":{"orient":"top","values":[200,300,1000,2000],"tickSize":-7,"labels":false,"title":null}},"y":{"field":"mid","type":"quantitative","axis":{"orient":"right","values":[0.8,0.9,1.1,1.2,1.3,1.4,1.6,1.7,1.8,1.9,2.1,2.2],"tickSize":-6,"labels":false,"title":null}},"color":{"field":"series","type":"nominal"},"order":[{"field":"xv","type":"quantitative"},{"field":"edge","type":"nominal"}]}},
{"data":{"name":"labels"},"transform":[{"filter":"datum.panel == 3"}],"mark":{"type":"text","align":"left","baseline":"alphabetic","fontSize":17},"encoding":{"x":{"datum":750.6,"type":"quantitative","axis":null},"y":{"datum":1.95,"type":"quantitative","axis":null},"text":{"field":"a"}}},
{"data":{"name":"labels"},"transform":[{"filter":"datum.panel == 3"}],"mark":{"type":"text","align":"left","baseline":"alphabetic","fontSize":12,"dx":42.5,"dy":10},"encoding":{"x":{"datum":750.6,"type":"quantitative","axis":null},"y":{"datum":1.95,"type":"quantitative","axis":null},"text":{"field":"b"}}},
{"data":{"name":"labels"},"transform":[{"filter":"datum.panel == 3"}],"mark":{"type":"text","align":"left","baseline":"alphabetic","fontSize":17,"dx":54},"encoding":{"x":{"datum":750.6,"type":"quantitative","axis":null},"y":{"datum":1.95,"type":"quantitative","axis":null},"text":{"field":"c"}}},
{"data":{"name":"labels"},"transform":[{"filter":"datum.panel == 3"}],"mark":{"type":"text","align":"left","baseline":"alphabetic","fontSize":17,"dx":100.5},"encoding":{"x":{"datum":750.6,"type":"quantitative","axis":null},"y":{"datum":1.95,"type":"quantitative","axis":null},"text":{"field":"d"}}}
]},
{"width":536.3,"height":91.67,"data":{"name":"bins"},"resolve":{"axis":{"x":"independent","y":"independent"}},
"layer":[
{"transform":[{"filter":"datum.panel == 4 && datum.series == 'NLO/LO'"}],"mark":{"type":"rect","color":"#a6a6db"},"encoding":{"x":{"field":"lo","type":"quantitative","scale":{"type":"log","domain":[131,2295],"nice":false},"axis":{"orient":"bottom","values":[200,300,400,500,600,700,800,900,1000,2000],"tickSize":-4,"labels":false,"title":null}},"x2":{"field":"hi"},"y":{"field":"down","type":"quantitative","scale":{"domain":[0.7,2.3],"nice":false,"zero":false},"axis":{"orient":"left","values":[1,1.5,2],"tickSize":-14,"format":"~g","labelPadding":27.7,"labelFlush":false,"labelOverlap":false,"title":null}},"y2":{"field":"up"}}},
{"transform":[{"filter":"datum.panel == 4 && datum.series == 'NNLO/NLO'"}],"mark":{"type":"rect","color":"#ffa6a6"},"encoding":{"x":{"field":"lo","type":"quantitative","axis":{"orient":"top","values":[200,300,400,500,600,700,800,900,1000,2000],"tickSize":-4,"labels":false,"title":null}},"x2":{"field":"hi"},"y":{"field":"down","type":"quantitative","axis":{"orient":"right","values":[1,1.5,2],"tickSize":-12,"labels":false,"title":null}},"y2":{"field":"up"}}},
{"transform":[{"filter":"datum.panel == 4 && datum.series == 'NLO/LO' && indexof([430,507,592], datum.lo) >= 0"}],"mark":{"type":"rule","color":"#000099","strokeWidth":1,"opacity":0.7},"encoding":{"x":{"field":"lo","type":"quantitative","axis":null},"y":{"field":"down","type":"quantitative","axis":null},"y2":{"field":"up"}}},
{"mark":{"type":"rule","color":"black","strokeWidth":1.2},"encoding":{"y":{"datum":1,"type":"quantitative","axis":null}}},
{"transform":[{"filter":"datum.panel == 4 && datum.series == 'NLO/LO'"},{"fold":["lo","hi"],"as":["edge","xv"]}],"mark":{"type":"line","strokeWidth":2},"encoding":{"x":{"field":"xv","type":"quantitative","axis":{"orient":"bottom","values":[200,300,1000,2000],"tickSize":-7,"labels":false,"title":null}},"y":{"field":"mid","type":"quantitative","axis":{"orient":"left","values":[0.8,0.9,1.1,1.2,1.3,1.4,1.6,1.7,1.8,1.9,2.1,2.2],"tickSize":-7,"labels":false,"title":null}},"color":{"field":"series","type":"nominal"},"order":[{"field":"xv","type":"quantitative"},{"field":"edge","type":"nominal"}]}},
{"transform":[{"filter":"datum.panel == 4 && datum.series == 'NNLO/NLO'"},{"fold":["lo","hi"],"as":["edge","xv"]}],"mark":{"type":"line","strokeWidth":2},"encoding":{"x":{"field":"xv","type":"quantitative","axis":{"orient":"top","values":[200,300,1000,2000],"tickSize":-7,"labels":false,"title":null}},"y":{"field":"mid","type":"quantitative","axis":{"orient":"right","values":[0.8,0.9,1.1,1.2,1.3,1.4,1.6,1.7,1.8,1.9,2.1,2.2],"tickSize":-6,"labels":false,"title":null}},"color":{"field":"series","type":"nominal"},"order":[{"field":"xv","type":"quantitative"},{"field":"edge","type":"nominal"}]}},
{"data":{"name":"labels"},"transform":[{"filter":"datum.panel == 4"}],"mark":{"type":"text","align":"left","baseline":"alphabetic","fontSize":17},"encoding":{"x":{"datum":750.6,"type":"quantitative","axis":null},"y":{"datum":1.95,"type":"quantitative","axis":null},"text":{"field":"a"}}},
{"data":{"name":"labels"},"transform":[{"filter":"datum.panel == 4"}],"mark":{"type":"text","align":"left","baseline":"alphabetic","fontSize":12,"dx":42.5,"dy":10},"encoding":{"x":{"datum":750.6,"type":"quantitative","axis":null},"y":{"datum":1.95,"type":"quantitative","axis":null},"text":{"field":"b"}}},
{"data":{"name":"labels"},"transform":[{"filter":"datum.panel == 4"}],"mark":{"type":"text","align":"left","baseline":"alphabetic","fontSize":17,"dx":54},"encoding":{"x":{"datum":750.6,"type":"quantitative","axis":null},"y":{"datum":1.95,"type":"quantitative","axis":null},"text":{"field":"c"}}},
{"data":{"name":"labels"},"transform":[{"filter":"datum.panel == 4"}],"mark":{"type":"text","align":"left","baseline":"alphabetic","fontSize":17,"dx":100.5},"encoding":{"x":{"datum":750.6,"type":"quantitative","axis":null},"y":{"datum":1.95,"type":"quantitative","axis":null},"text":{"field":"d"}}}
]},
{"width":536.3,"height":91.67,"data":{"name":"bins"},"resolve":{"axis":{"x":"independent","y":"independent"}},
"layer":[
{"transform":[{"filter":"datum.panel == 5 && datum.series == 'NLO/LO'"}],"mark":{"type":"rect","color":"#a6a6db"},"encoding":{"x":{"field":"lo","type":"quantitative","scale":{"type":"log","domain":[131,2295],"nice":false},"axis":{"orient":"bottom","values":[200,300,400,500,600,700,800,900,1000,2000],"tickSize":-4,"labels":false,"title":null}},"x2":{"field":"hi"},"y":{"field":"down","type":"quantitative","scale":{"domain":[0.7,2.3],"nice":false,"zero":false},"axis":{"orient":"left","values":[1,1.5,2],"tickSize":-14,"format":"~g","labelPadding":27.7,"labelFlush":false,"labelOverlap":false,"title":null}},"y2":{"field":"up"}}},
{"transform":[{"filter":"datum.panel == 5 && datum.series == 'NNLO/NLO'"}],"mark":{"type":"rect","color":"#ffa6a6"},"encoding":{"x":{"field":"lo","type":"quantitative","axis":{"orient":"top","values":[200,300,400,500,600,700,800,900,1000,2000],"tickSize":-4,"labels":false,"title":null}},"x2":{"field":"hi"},"y":{"field":"down","type":"quantitative","axis":{"orient":"right","values":[1,1.5,2],"tickSize":-12,"labels":false,"title":null}},"y2":{"field":"up"}}},
{"transform":[{"filter":"datum.panel == 5 && datum.series == 'NLO/LO' && indexof([430,507,592], datum.lo) >= 0"}],"mark":{"type":"rule","color":"#000099","strokeWidth":1,"opacity":0.7},"encoding":{"x":{"field":"lo","type":"quantitative","axis":null},"y":{"field":"down","type":"quantitative","axis":null},"y2":{"field":"up"}}},
{"mark":{"type":"rule","color":"black","strokeWidth":1.2},"encoding":{"y":{"datum":1,"type":"quantitative","axis":null}}},
{"transform":[{"filter":"datum.panel == 5 && datum.series == 'NLO/LO'"},{"fold":["lo","hi"],"as":["edge","xv"]}],"mark":{"type":"line","strokeWidth":2},"encoding":{"x":{"field":"xv","type":"quantitative","axis":{"orient":"bottom","values":[200,300,1000,2000],"tickSize":-7,"labels":false,"title":null}},"y":{"field":"mid","type":"quantitative","axis":{"orient":"left","values":[0.8,0.9,1.1,1.2,1.3,1.4,1.6,1.7,1.8,1.9,2.1,2.2],"tickSize":-7,"labels":false,"title":null}},"color":{"field":"series","type":"nominal"},"order":[{"field":"xv","type":"quantitative"},{"field":"edge","type":"nominal"}]}},
{"transform":[{"filter":"datum.panel == 5 && datum.series == 'NNLO/NLO'"},{"fold":["lo","hi"],"as":["edge","xv"]}],"mark":{"type":"line","strokeWidth":2},"encoding":{"x":{"field":"xv","type":"quantitative","axis":{"orient":"top","values":[200,300,1000,2000],"tickSize":-7,"labels":false,"title":null}},"y":{"field":"mid","type":"quantitative","axis":{"orient":"right","values":[0.8,0.9,1.1,1.2,1.3,1.4,1.6,1.7,1.8,1.9,2.1,2.2],"tickSize":-6,"labels":false,"title":null}},"color":{"field":"series","type":"nominal"},"order":[{"field":"xv","type":"quantitative"},{"field":"edge","type":"nominal"}]}},
{"data":{"name":"labels"},"transform":[{"filter":"datum.panel == 5"}],"mark":{"type":"text","align":"left","baseline":"alphabetic","fontSize":17},"encoding":{"x":{"datum":750.6,"type":"quantitative","axis":null},"y":{"datum":1.95,"type":"quantitative","axis":null},"text":{"field":"a"}}},
{"data":{"name":"labels"},"transform":[{"filter":"datum.panel == 5"}],"mark":{"type":"text","align":"left","baseline":"alphabetic","fontSize":12,"dx":42.5,"dy":10},"encoding":{"x":{"datum":750.6,"type":"quantitative","axis":null},"y":{"datum":1.95,"type":"quantitative","axis":null},"text":{"field":"b"}}},
{"data":{"name":"labels"},"transform":[{"filter":"datum.panel == 5"}],"mark":{"type":"text","align":"left","baseline":"alphabetic","fontSize":17,"dx":54},"encoding":{"x":{"datum":750.6,"type":"quantitative","axis":null},"y":{"datum":1.95,"type":"quantitative","axis":null},"text":{"field":"c"}}},
{"data":{"name":"labels"},"transform":[{"filter":"datum.panel == 5"}],"mark":{"type":"text","align":"left","baseline":"alphabetic","fontSize":17,"dx":100.5},"encoding":{"x":{"datum":750.6,"type":"quantitative","axis":null},"y":{"datum":1.95,"type":"quantitative","axis":null},"text":{"field":"d"}}}
]},
{"width":536.3,"height":91.67,"data":{"name":"bins"},"resolve":{"axis":{"x":"independent","y":"independent"}},
"layer":[
{"transform":[{"filter":"datum.panel == 6 && datum.series == 'NLO/LO'"}],"mark":{"type":"rect","color":"#a6a6db"},"encoding":{"x":{"field":"lo","type":"quantitative","scale":{"type":"log","domain":[131,2295],"nice":false},"axis":{"orient":"bottom","values":[200,300,400,500,600,700,800,900,1000,2000],"tickSize":-4,"labels":true,"format":"d","labelExpr":"indexof([200,300,500,1000,2000], datum.value) >= 0 ? datum.label : ''","labelPadding":6,"labelFlush":false,"labelOverlap":false,"title":null}},"x2":{"field":"hi"},"y":{"field":"down","type":"quantitative","scale":{"domain":[0.7,2.3],"nice":false,"zero":false},"axis":{"orient":"left","values":[1,1.5,2],"tickSize":-14,"format":"~g","labelPadding":27.7,"labelFlush":false,"labelOverlap":false,"title":null}},"y2":{"field":"up"}}},
{"transform":[{"filter":"datum.panel == 6 && datum.series == 'NNLO/NLO'"}],"mark":{"type":"rect","color":"#ffa6a6"},"encoding":{"x":{"field":"lo","type":"quantitative","axis":{"orient":"top","values":[200,300,400,500,600,700,800,900,1000,2000],"tickSize":-4,"labels":false,"title":null}},"x2":{"field":"hi"},"y":{"field":"down","type":"quantitative","axis":{"orient":"right","values":[1,1.5,2],"tickSize":-12,"labels":false,"title":null}},"y2":{"field":"up"}}},
{"mark":{"type":"rule","color":"black","strokeWidth":1.2},"encoding":{"y":{"datum":1,"type":"quantitative","axis":null}}},
{"transform":[{"filter":"datum.panel == 6 && datum.series == 'NLO/LO'"},{"fold":["lo","hi"],"as":["edge","xv"]}],"mark":{"type":"line","strokeWidth":2},"encoding":{"x":{"field":"xv","type":"quantitative","axis":{"orient":"bottom","values":[200,300,1000,2000],"tickSize":-7,"labels":false,"title":null}},"y":{"field":"mid","type":"quantitative","axis":{"orient":"left","values":[0.8,0.9,1.1,1.2,1.3,1.4,1.6,1.7,1.8,1.9,2.1,2.2],"tickSize":-7,"labels":false,"title":null}},"color":{"field":"series","type":"nominal"},"order":[{"field":"xv","type":"quantitative"},{"field":"edge","type":"nominal"}]}},
{"transform":[{"filter":"datum.panel == 6 && datum.series == 'NNLO/NLO'"},{"fold":["lo","hi"],"as":["edge","xv"]}],"mark":{"type":"line","strokeWidth":2},"encoding":{"x":{"field":"xv","type":"quantitative","axis":{"orient":"top","values":[200,300,1000,2000],"tickSize":-7,"labels":false,"title":null}},"y":{"field":"mid","type":"quantitative","axis":{"orient":"right","values":[0.8,0.9,1.1,1.2,1.3,1.4,1.6,1.7,1.8,1.9,2.1,2.2],"tickSize":-6,"labels":false,"title":null}},"color":{"field":"series","type":"nominal"},"order":[{"field":"xv","type":"quantitative"},{"field":"edge","type":"nominal"}]}},
{"data":{"name":"labels"},"transform":[{"filter":"datum.panel == 6"}],"mark":{"type":"text","align":"left","baseline":"alphabetic","fontSize":17},"encoding":{"x":{"datum":750.6,"type":"quantitative","axis":null},"y":{"datum":1.95,"type":"quantitative","axis":null},"text":{"field":"a"}}},
{"data":{"name":"labels"},"transform":[{"filter":"datum.panel == 6"}],"mark":{"type":"text","align":"left","baseline":"alphabetic","fontSize":12,"dx":42.5,"dy":10},"encoding":{"x":{"datum":750.6,"type":"quantitative","axis":null},"y":{"datum":1.95,"type":"quantitative","axis":null},"text":{"field":"b"}}},
{"data":{"name":"labels"},"transform":[{"filter":"datum.panel == 6"}],"mark":{"type":"text","align":"left","baseline":"alphabetic","fontSize":17,"dx":54},"encoding":{"x":{"datum":750.6,"type":"quantitative","axis":null},"y":{"datum":1.95,"type":"quantitative","axis":null},"text":{"field":"c"}}},
{"data":{"name":"labels"},"transform":[{"filter":"datum.panel == 6"}],"mark":{"type":"text","align":"left","baseline":"alphabetic","fontSize":17,"dx":100.5},"encoding":{"x":{"datum":750.6,"type":"quantitative","axis":null},"y":{"datum":1.95,"type":"quantitative","axis":null},"text":{"field":"d"}}},
{"data":{"values":[{}]},"mark":{"type":"text","align":"left","baseline":"alphabetic","fontSize":18},"encoding":{"x":{"datum":412.9,"type":"quantitative","axis":null},"y":{"datum":-0.15,"type":"quantitative","axis":null},"text":{"value":"p"}}},
{"data":{"values":[{}]},"mark":{"type":"text","align":"left","baseline":"alphabetic","fontSize":12,"dx":10.5,"dy":7},"encoding":{"x":{"datum":412.9,"type":"quantitative","axis":null},"y":{"datum":-0.15,"type":"quantitative","axis":null},"text":{"value":"T,avg"}}},
{"data":{"values":[{}]},"mark":{"type":"text","align":"left","baseline":"alphabetic","fontSize":18,"dx":45},"encoding":{"x":{"datum":412.9,"type":"quantitative","axis":null},"y":{"datum":-0.15,"type":"quantitative","axis":null},"text":{"value":"(GeV)"}}}
]}
]
}
